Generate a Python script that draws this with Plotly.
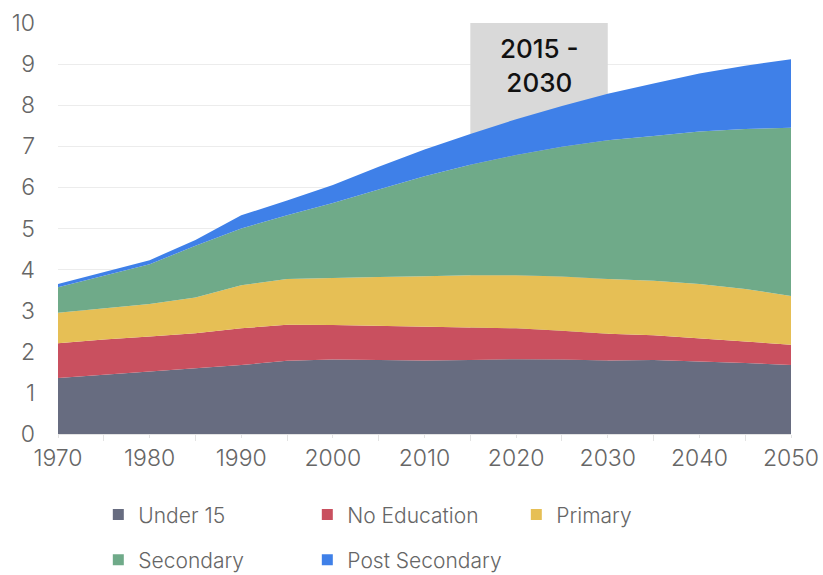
import plotly.graph_objects as go

# Population by educational attainment (billions), 5-year steps
years = [1970, 1975, 1980, 1985, 1990, 1995, 2000, 2005, 2010,
         2015, 2020, 2025, 2030, 2035, 2040, 2045, 2050]
under_15 = [1.36, 1.44, 1.52, 1.60, 1.68, 1.78, 1.81, 1.80, 1.79,
            1.80, 1.82, 1.81, 1.79, 1.80, 1.77, 1.73, 1.68]
no_education = [0.85, 0.86, 0.85, 0.85, 0.89, 0.88, 0.84, 0.83, 0.82,
                0.80, 0.75, 0.70, 0.65, 0.60, 0.56, 0.52, 0.49]
primary = [0.74, 0.76, 0.79, 0.87, 1.05, 1.11, 1.15, 1.19, 1.23,
           1.26, 1.29, 1.32, 1.33, 1.33, 1.32, 1.28, 1.19]
secondary = [0.62, 0.79, 0.97, 1.26, 1.38, 1.55, 1.82, 2.13, 2.43,
             2.69, 2.93, 3.16, 3.38, 3.52, 3.71, 3.89, 4.09]
post_secondary = [0.08, 0.09, 0.10, 0.14, 0.32, 0.36, 0.44, 0.55, 0.65,
                  0.75, 0.87, 0.99, 1.13, 1.28, 1.41, 1.54, 1.67]

series_names = ["Under 15", "No Education", "Primary", "Secondary", "Post Secondary"]
series_values = [under_15, no_education, primary, secondary, post_secondary]
colors = ["#676c80", "#c9505f", "#e6bf55", "#6faa89", "#3f80e8"]

highlight_period = [2015, 2030]
highlight_label = "2015 -<br>2030"

FONT = "Inter"
GREY = "#666666"

fig = go.Figure()

for name, vals, col in zip(series_names, series_values, colors):
    fig.add_trace(go.Scatter(
        x=years, y=vals, name=name, stackgroup="edu",
        mode="lines", line=dict(width=0, color=col),
        fillcolor=col, showlegend=False, hoverinfo="x+y+name",
    ))

# Square legend swatches, split over two rows
for i, (name, col) in enumerate(zip(series_names, colors)):
    fig.add_trace(go.Scatter(
        x=[None], y=[None], name=name, mode="markers",
        marker=dict(symbol="square", size=11, color=col),
        legend="legend" if i < 3 else "legend2",
    ))

fig.add_shape(
    type="rect", xref="x", yref="y",
    x0=highlight_period[0], x1=highlight_period[1], y0=0, y1=10.05,
    fillcolor="#d9d9d9", line=dict(width=0), layer="between",
)
fig.add_annotation(
    x=sum(highlight_period) / 2, y=8.97, xref="x", yref="y",
    text=highlight_label, showarrow=False, yanchor="middle",
    font=dict(family=FONT, size=26, color="#111111", weight=500),
)

legend_common = dict(
    orientation="h", xanchor="left", yanchor="middle",
    traceorder="normal",
    font=dict(family=FONT, size=21, color=GREY, weight=300),
    itemwidth=30, entrywidth=164, entrywidthmode="pixels",
    bgcolor="rgba(0,0,0,0)", itemclick=False, itemdoubleclick=False,
)

fig.update_layout(
    width=823, height=575,
    margin=dict(l=58, r=32, t=23, b=141, autoexpand=False),
    paper_bgcolor="white", plot_bgcolor="white",
    font=dict(family=FONT, color=GREY),
    legend=dict(x=0.055, y=-0.197, **legend_common),
    legend2=dict(x=0.055, y=-0.307, **legend_common),
    xaxis=dict(
        range=[1970, 2050], dtick=10, tick0=1970,
        showgrid=False, zeroline=False,
        showline=True, linecolor="#e3e3e3", linewidth=1,
        ticks="outside", ticklen=3, tickcolor="#e3e3e3",
        minor=dict(dtick=5, ticks="outside", ticklen=6, tickcolor="#e3e3e3"),
        tickfont=dict(family=FONT, size=23, color=GREY, weight=300),
    ),
    yaxis=dict(
        range=[0, 10], dtick=1,
        showgrid=True, gridcolor="#ececec", gridwidth=1,
        zeroline=False, showline=False,
        ticklabelstandoff=22,
        tickfont=dict(family=FONT, size=23, color=GREY, weight=300),
    ),
)

fig.write_html("out.html")
